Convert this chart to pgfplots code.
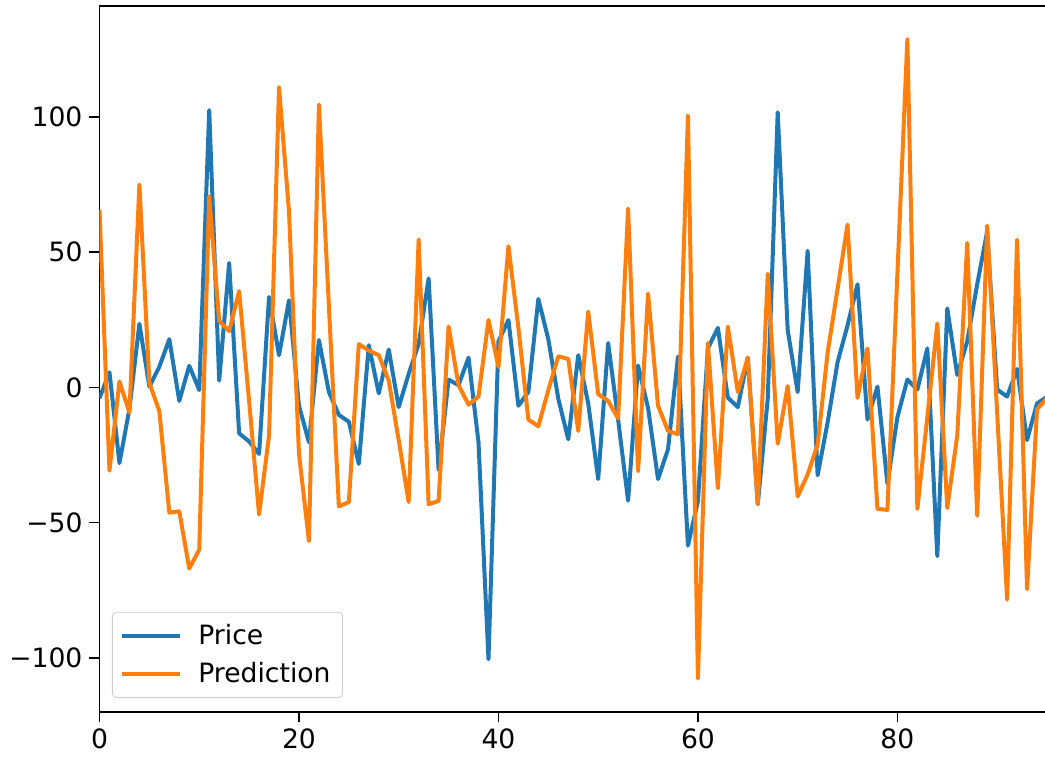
\documentclass[border=0pt]{standalone}
\usepackage{fontspec}
\setmainfont{DejaVu Sans}
\usepackage{pgfplots}
\pgfplotsset{compat=1.18}
\definecolor{mplblue}{HTML}{1F77B4}
\definecolor{mplorange}{HTML}{FF7F0E}
\pgfplotstableread{
i price pred
0 -4 65.6
1 5.6 -30.8
2 -28 2.2
3 -8 -9.3
4 23.5 75
5 0.3 1.7
6 7.6 -8.8
7 17.8 -46.3
8 -5 -45.8
9 8 -67
10 -1 -60
11 102.5 70.7
12 2.5 24.6
13 46 20.8
14 -17 35.6
15 -20 -5
16 -24.6 -47
17 33.4 -17.8
18 11.9 111
19 32.2 65
20 -6.8 -24.6
21 -20.3 -56.8
22 17.5 104.6
23 -1.7 30
24 -10.2 -44
25 -12.7 -42.4
26 -28.3 16
27 15.6 13.6
28 -2.2 11.9
29 14 2.5
30 -7.3 -19.5
31 5 -42.4
32 16 54.7
33 40.3 -43.2
34 -30.5 -42
35 2.9 22.5
36 0.8 0.8
37 11 -6.4
38 -20.3 -3.4
39 -100.5 24.9
40 17 7.6
41 24.9 52.2
42 -6.8 22
43 -1.7 -11.9
44 32.7 -14.4
45 17.8 -1
46 -4.2 11.5
47 -19.2 10.5
48 11.9 -16.1
49 -5.9 28
50 -33.9 -2.5
51 16.4 -5
52 -12 -11.5
53 -41.9 66.1
54 8.1 -31
55 -7.6 34.7
56 -33.9 -6.8
57 -22.9 -16.1
58 11.4 -17.3
59 -58.5 100.5
60 -42 -107.6
61 14.4 16.4
62 22 -37.3
63 -3.8 22.5
64 -7.3 -1.7
65 11 11
66 -43.2 -43.2
67 -4.2 42
68 101.7 -20.8
69 21.2 0.5
70 -1.7 -40.3
71 50.5 -32.2
72 -32.5 -21.2
73 -13 12.7
74 9.3 36.4
75 22.9 60.2
76 38.1 -3.9
77 -11.9 14.4
78 0.3 -44.9
79 -35.6 -45.3
80 -11 42
81 2.9 128.8
82 -0.8 -44.9
83 14.4 -11
84 -62.4 23.6
85 29.2 -44.6
86 4.6 -17.8
87 17 53.4
88 38.1 -47.5
89 57.6 59.8
90 -0.8 -9.3
91 -3.4 -78.5
92 6.8 54.6
93 -19.5 -74.6
94 -5.9 -8.1
95 -3.5 -4
}\datatable
\begin{document}
\begin{tikzpicture}
\begin{axis}[
  scale only axis, width=472.75pt, height=353pt,
  xmin=0, xmax=94.8, ymin=-120, ymax=141,
  axis x line*=box, axis y line*=left,
  axis line style={line width=0.8pt, -},
  xtick={0,20,40,60,80}, ytick={-100,-50,0,50,100},
  yticklabels={−100,−50,0,50,100},
  xtick pos=bottom, ytick pos=left,
  tick align=outside, major tick length=5pt,
  every tick/.style={black, line width=0.8pt},
  tick label style={font=\fontsize{13.3}{16}\selectfont},
  /pgf/number format/assume math mode=true,
  legend cell align=left,
  legend style={at={(0.0132,0.0198)}, anchor=south west,
    draw=black!20, rounded corners=2pt, fill=white, fill opacity=0.8, text opacity=1,
    font=\fontsize{13.3}{16}\selectfont, inner xsep=4pt, inner ysep=4pt,
    row sep=3.5pt,
    /tikz/every odd column/.append style={column sep=6pt}},
  legend image code/.code={\draw[#1] (0pt,0pt) -- (29pt,0pt);},
]
\addplot[mplblue, line width=2pt, line join=round] table[x=i, y=price] {\datatable};
\addlegendentry{Price}
\addplot[mplorange, line width=2pt, line join=round] table[x=i, y=pred] {\datatable};
\addlegendentry{Prediction}
\end{axis}
\pgfresetboundingbox
\path (current axis.south west) ++(-49.75pt,-23pt) rectangle ++(522.5pt,379pt);
\end{tikzpicture}
\end{document}
